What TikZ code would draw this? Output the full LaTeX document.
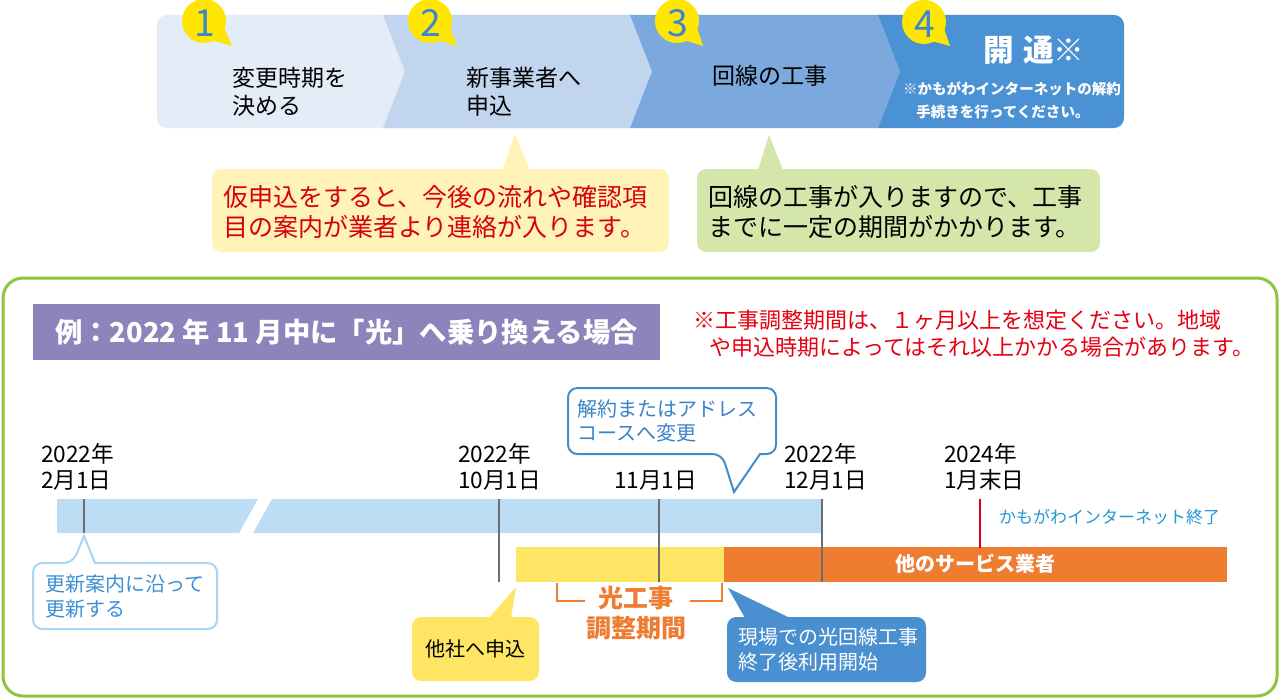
\documentclass[tikz,border=0pt]{standalone}
\usepackage{fontspec}
\setmainfont{Noto Sans CJK JP}
\definecolor{segA}{HTML}{E3ECF7}
\definecolor{segB}{HTML}{C1D5EE}
\definecolor{segC}{HTML}{7CA9DD}
\definecolor{segD}{HTML}{4A92D3}
\definecolor{badgeY}{HTML}{FFE600}
\definecolor{numB}{HTML}{3B86D0}
\definecolor{creamY}{HTML}{FFF3B8}
\definecolor{redT}{HTML}{D7000F}
\definecolor{greenBox}{HTML}{D5E6AA}
\definecolor{frameG}{HTML}{8CC63E}
\definecolor{purpleB}{HTML}{8B85BC}
\definecolor{noteR}{HTML}{E50012}
\definecolor{tlBlue}{HTML}{BCDDF4}
\definecolor{tickG}{HTML}{6E6E6E}
\definecolor{barY}{HTML}{FFE564}
\definecolor{barO}{HTML}{EE7D31}
\definecolor{tickR}{HTML}{D6001C}
\definecolor{cyanT}{HTML}{2398D4}
\definecolor{lbBorder}{HTML}{A8D5F2}
\definecolor{lbText}{HTML}{3C8FD4}
\definecolor{dbBorder}{HTML}{3F8DD0}
\definecolor{dbText}{HTML}{3A82C8}
\definecolor{blueFill}{HTML}{4A90D0}
\begin{document}
\begin{tikzpicture}[x=0.75pt,y=-0.75pt,
  every node/.style={inner sep=0pt,outer sep=0pt},
  steptext/.style={anchor=west,align=left,text=black,font=\fontsize{17.25pt}{21pt}\selectfont},
  numtext/.style={text=numB,font=\fontsize{28pt}{28pt}\selectfont},
  calltext/.style={anchor=west,align=left,font=\fontsize{18.75pt}{22.5pt}\selectfont},
  datetext/.style={anchor=west,align=left,text=black,font=\fontsize{17pt}{19.5pt}\selectfont},
  smalltext/.style={anchor=west,align=left,font=\fontsize{15pt}{18.5pt}\selectfont},
  tickline/.style={draw=tickG,line width=1.8pt},
  bracket/.style={draw=barO,line width=2.2pt}]
\useasboundingbox (0,0) rectangle (1281,699);
\fill[white] (0,0) rectangle (1281,699);

% ---- step bar ----
\begin{scope}
\clip[rounded corners=7.5pt] (157,15) rectangle (1124,128);
\fill[segA] (150,10) rectangle (1130,135);
\fill[segB] (383,15) -- (405,71.5) -- (383,128) -- (630,128) -- (652,71.5) -- (630,15) -- cycle;
\fill[segC] (630,15) -- (652,71.5) -- (630,128) -- (878,128) -- (900,71.5) -- (878,15) -- cycle;
\fill[segD] (878,15) -- (900,71.5) -- (878,128) -- (1130,128) -- (1130,15) -- cycle;
\end{scope}

% badges
\foreach \cx/\cy/\tx/\ty/\n in {204/21/232/46/1, 430/21/457/46/2, 677/21/703/46/3, 924/22/950/46/4}{
  \fill[badgeY] (\cx,\cy) circle[radius=16.5pt];
  \fill[badgeY] (\cx+4,\cy+18) -- (\tx,\ty) -- (\cx+19,\cy+4) -- cycle;
  \node[numtext] (badge\n) at (\cx+1,\cy+2) {\n};
}

\node[steptext] (s1) at (232,92) {変更時期を\\決める};
\node[steptext] (s2) at (466,92) {新事業者へ\\申込};
\node[steptext] (s3) at (712,76) {回線の工事};
\node[text=white,font=\bfseries\fontsize{23pt}{25pt}\selectfont] (s4) at (1034,50) {開\hspace{0.3em}通※};
\node[anchor=west,align=left,text=white,font=\bfseries\fontsize{10.9pt}{17pt}\selectfont] (s4n) at (903,100.5) {※かもがわインターネットの解約\\\hspace*{10pt}手続きを行ってください。};

% ---- top callouts ----
\fill[creamY,rounded corners=7pt] (212,169) rectangle (669,252);
\fill[creamY] (502,170) -- (515,135) -- (530,170) -- cycle;
\node[calltext,text=redT] (c1) at (223,212) {仮申込をすると、今後の流れや確認項\\目の案内が業者より連絡が入ります。};
\fill[greenBox,rounded corners=7pt] (697,169) rectangle (1100,252);
\fill[greenBox] (758,170) -- (769,135) -- (783,170) -- cycle;
\node[calltext,text=black] (c2) at (708,212) {回線の工事が入りますので、工事\\までに一定の期間がかかります。};

% ---- lower frame ----
\draw[frameG,line width=2.25pt,rounded corners=15pt] (3,278) rectangle (1277,696);
\fill[purpleB] (33,304) rectangle (660,360);
\node[text=white,font=\bfseries\fontsize{20.5pt}{22pt}\selectfont] (banner) at (346.5,332) {例：2022 年 11 月中に「光」へ乗り換える場合};
\node[anchor=west,align=left,text=noteR,font=\fontsize{16.5pt}{20.5pt}\selectfont] (note) at (693,333.5) {※工事調整期間は、１ヶ月以上を想定ください。地域\\\hspace*{12pt}や申込時期によってはそれ以上かかる場合があります。};

% ---- timeline ----
\fill[tlBlue] (57,499) -- (258,499) -- (239,533) -- (57,533) -- cycle;
\fill[tlBlue] (272,499) -- (822,499) -- (822,533) -- (253,533) -- cycle;
\fill[barY] (516,547) rectangle (724,582);
\fill[barO] (724,547) rectangle (1227,582);
\node[text=white,font=\bfseries\fontsize{15pt}{16pt}\selectfont] (other) at (975,564) {他のサービス業者};

\coordinate (t1a) at (84,499);  \coordinate (t1b) at (84,533);
\coordinate (t2a) at (499,499); \coordinate (t2b) at (499,582);
\coordinate (t3a) at (659,499); \coordinate (t3b) at (659,582);
\coordinate (t4a) at (822,499); \coordinate (t4b) at (822,582);
\coordinate (t5a) at (980,499); \coordinate (t5b) at (980,548);
\draw[tickline] (t1a) -- (t1b);
\draw[tickline] (t2a) -- (t2b);
\draw[tickline] (t3a) -- (t3b);
\draw[tickline] (t4a) -- (t4b);
\draw[draw=tickR,line width=1.8pt] (t5a) -- (t5b);

\node[datetext] (d1) at (41,467) {2022年\\2月1日};
\node[datetext] (d2) at (458,467) {2022年\\10月1日};
\node[datetext] (d3) at (614,480) {11月1日};
\node[datetext] (d4) at (784,467) {2022年\\12月1日};
\node[datetext] (d5) at (944,467) {2024年\\1月末日};
\node[anchor=west,text=cyanT,font=\fontsize{12.75pt}{14pt}\selectfont] (endnet) at (999,517) {かもがわインターネット終了};

% bracket
\draw[bracket] (557,583) -- (557,601) -- (585,601);
\draw[bracket] (690,601) -- (722,601) -- (722,583);
\node[text=barO,font=\bfseries\fontsize{18.75pt}{20pt}\selectfont] (k1) at (636,598) {光工事};
\node[text=barO,font=\bfseries\fontsize{18.75pt}{20pt}\selectfont] (k2) at (636,628) {調整期間};

% callout: 更新
\path[fill=white,draw=lbBorder,line width=1.5pt,rounded corners=7pt] (95,563) -- (217,563) -- (217,629) -- (33,629) -- (33,563) -- (73,563) [sharp corners] -- (84,536) -- cycle;
\node[smalltext,text=lbText] (upd) at (45,596.5) {更新案内に沿って\\更新する};

% callout: 他社へ申込
\fill[barY,rounded corners=7pt] (412,617) rectangle (539,681);
\fill[barY] (489,618) -- (516,587) -- (511,618) -- cycle;
\node[text=black,font=\fontsize{15pt}{16pt}\selectfont] (apply) at (475,649) {他社へ申込};

% callout: 解約
\path[fill=white,draw=dbBorder,line width=1.5pt,rounded corners=7pt] (760,454) -- (776,454) -- (776,388) -- (568,388) -- (568,454) -- (722,454) [sharp corners] -- (734,492) -- cycle;
\node[smalltext,text=dbText] (cancel) at (577,421) {解約またはアドレス\\コースへ変更};

% callout: 現場
\fill[blueFill,rounded corners=7pt] (727,617) rectangle (926,682);
\fill[blueFill] (745,618) -- (728,588) -- (790,618) -- cycle;
\node[smalltext,text=white] (site) at (738,649.5) {現場での光回線工事\\終了後利用開始};
\end{tikzpicture}
\end{document}
